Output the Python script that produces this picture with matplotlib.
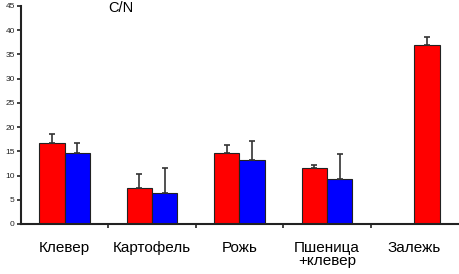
import numpy as np
import matplotlib.pyplot as plt

plt.rcParams['font.family'] = ['Liberation Sans', 'DejaVu Sans']

# Данные C/N
kultury = ["Клевер", "Картофель", "Рожь", "Пшеница\n+клевер", "Залежь"]
krasnye = [16.8, 7.5, 14.6, 11.5, np.nan]
krasnye_err = [1.8, 2.8, 1.7, 0.6, np.nan]
sinie = [14.6, 6.4, 13.2, 9.2, 36.9]
sinie_err = [2.2, 5.1, 4.0, 5.2, 1.6]
sinie_cvet = ["#0000ff", "#0000ff", "#0000ff", "#0000ff", "#ff0000"]

fig = plt.figure(figsize=(4.6, 2.74), dpi=100)
ax = fig.add_axes([21 / 460, 50 / 274, 437 / 460, 218 / 274])

x = np.arange(len(kultury)) + 0.5
w = 0.29

ax.bar(x - w / 2, krasnye, w, color="#ff0000", edgecolor="#222222", linewidth=0.8,
       yerr=[np.zeros(5), krasnye_err], error_kw=dict(ecolor="#333333", elinewidth=1.2, capsize=2.5, capthick=1.2))
ax.bar(x + w / 2, sinie, w, color=sinie_cvet, edgecolor="#222222", linewidth=0.8,
       yerr=[np.zeros(5), sinie_err], error_kw=dict(ecolor="#333333", elinewidth=1.2, capsize=2.5, capthick=1.2))

ax.set_xlim(0, 5)
ax.set_ylim(0, 45)
ax.set_yticks(np.arange(0, 46, 5))
ax.tick_params(axis='y', labelsize=6, length=3, width=1.2, pad=1.5, colors="#222222")

ax.set_xticks(x)
ax.set_xticklabels(kultury, fontsize=11, linespacing=0.95)
ax.tick_params(axis='x', which='major', length=0, pad=12)
ax.set_xticks([1, 2, 3, 4], minor=True)
ax.tick_params(axis='x', which='minor', length=3, width=1.2, colors="#222222")

for s in ["top", "right"]:
    ax.spines[s].set_visible(False)
for s in ["left", "bottom"]:
    ax.spines[s].set_linewidth(1.5)
    ax.spines[s].set_color("#222222")

fig.text(121 / 460, 1 - 8 / 274, "C/N", fontsize=10.5, ha="center", va="center")

fig.savefig("out.png", dpi=100)
